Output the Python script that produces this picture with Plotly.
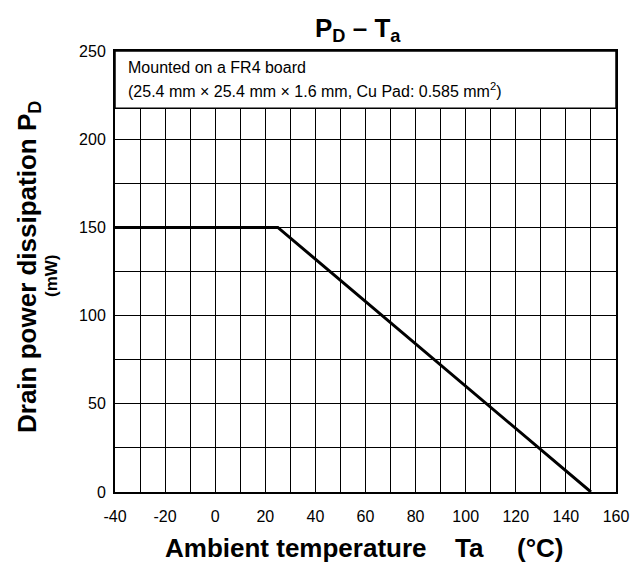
import plotly.graph_objects as go

# Data
ta = [-40, 25, 150]
pd_mw = [150, 150, 0]
x_ticks = [-40, -20, 0, 20, 40, 60, 80, 100, 120, 140, 160]
x_tick_text = ["-40", "-20", "0", "20", "40", "60", "80", "100", "120", "140", "160"]
y_ticks = [0, 50, 100, 150, 200, 250]
y_tick_text = ["0", "50", "100", "150", "200", "250"]
note_line1 = "Mounted on a FR4 board"
note_line2 = "(25.4 mm \u00d7 25.4 mm \u00d7 1.6 mm, Cu Pad: 0.585 mm<sup>2</sup>)"

FONT = "Liberation Sans, Arial, sans-serif"

# page has an 8px body margin; figure is sized to fit the window
OFF = 8
W, H = 641 - OFF, 563 - OFF
L, R, T, B = 115 - OFF, 25, 51 - OFF, 71
PW = W - L - R
PH = H - T - B


def px(page_x):
    return (page_x - OFF - L) / PW


def py(page_y):
    return (T + PH - (page_y - OFF)) / PH


fig = go.Figure()
fig.add_trace(go.Scatter(x=ta, y=pd_mw, mode="lines",
                         line=dict(color="black", width=3), showlegend=False,
                         hoverinfo="skip"))

fig.update_layout(
    width=W, height=H,
    margin=dict(l=L, r=R, t=T, b=B, autoexpand=False),
    paper_bgcolor="white", plot_bgcolor="white",
    font=dict(family=FONT, color="black", size=16),
    xaxis=dict(range=[-40, 160], tickvals=x_ticks, ticktext=x_tick_text, ticks="",
               showgrid=True, gridcolor="black", gridwidth=1,
               showline=True, linecolor="black", linewidth=2, mirror=True,
               zeroline=False, tickfont=dict(size=16), ticklabelstandoff=9,
               automargin=False),
    yaxis=dict(range=[0, 250], tickvals=y_ticks, ticktext=y_tick_text, ticks="",
               showgrid=False,
               showline=True, linecolor="black", linewidth=2, mirror=True,
               zeroline=False, tickfont=dict(size=16), ticklabelstandoff=4,
               automargin=False),
)

# minor grid: vertical every 10, horizontal every 25
fig.update_xaxes(minor=dict(dtick=10, showgrid=True, gridcolor="black", gridwidth=1))
fig.update_yaxes(minor=dict(dtick=25, tick0=0, showgrid=True, gridcolor="black", gridwidth=1))

# title
fig.add_annotation(xref="paper", yref="paper", x=px(358), y=py(30), xanchor="center", yanchor="middle",
                   text="<b>P<sub>D</sub> \u2013 T<sub>a</sub></b>", showarrow=False,
                   font=dict(size=26))

# note box
fig.add_shape(type="rect", xref="x", yref="y", x0=-40, x1=160, y0=217.5, y1=250,
              fillcolor="white", line=dict(color="black", width=1.5), layer="above")
fig.add_annotation(xref="x", yref="y", x=-35.5, y=240.5, xanchor="left", yanchor="middle",
                   text=note_line1, showarrow=False, font=dict(size=16))
fig.add_annotation(xref="x", yref="y", x=-35.5, y=228, xanchor="left", yanchor="middle",
                   text=note_line2, showarrow=False, font=dict(size=16))

# x-axis title (three parts, spaced as in the reference)
fig.add_annotation(xref="paper", yref="paper", x=px(163), y=py(548), xanchor="left", yanchor="middle",
                   text="<b>Ambient temperature</b>", showarrow=False, font=dict(size=26))
fig.add_annotation(xref="paper", yref="paper", x=px(453), y=py(548), xanchor="left", yanchor="middle",
                   text="<b>Ta</b>", showarrow=False, font=dict(size=26))
fig.add_annotation(xref="paper", yref="paper", x=px(515), y=py(548), xanchor="left", yanchor="middle",
                   text="<b>(\u00b0C)</b>", showarrow=False, font=dict(size=26))

# y-axis title (two lines)
fig.add_annotation(xref="paper", yref="paper", x=px(28), y=py(267), xanchor="center", yanchor="middle",
                   text="<b>Drain power dissipation P<sub>D</sub></b>", textangle=-90,
                   showarrow=False, font=dict(size=26))
fig.add_annotation(xref="paper", yref="paper", x=px(51), y=py(276), xanchor="center", yanchor="middle",
                   text="<b>(mW)</b>", textangle=-90,
                   showarrow=False, font=dict(size=17))

fig.write_html("out.html")
